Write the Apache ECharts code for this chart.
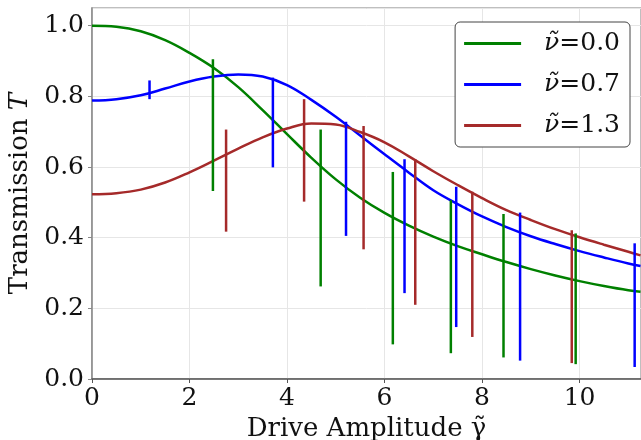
<!DOCTYPE html>
<html>
<head>
<meta charset="utf-8">
<script src="https://cdn.jsdelivr.net/npm/echarts@6/dist/echarts.min.js"></script>
<style>html,body{margin:0;padding:0;background:#fff}#c{width:641px;height:440px}</style>
</head>
<body>
<div id="c"></div>
<script>
var xs = [0, 0.5, 1.0, 1.5, 2.0, 2.5, 3.0, 3.5, 4.0, 4.5, 5.0, 5.5, 6.0, 6.5, 7.0, 7.5, 8.0, 8.5, 9.0, 9.5, 10.0, 10.5, 11.0, 11.25];
var green = [1.0, 0.997, 0.984, 0.959, 0.923, 0.880, 0.826, 0.761, 0.693, 0.626, 0.565, 0.513, 0.470, 0.434, 0.403, 0.376, 0.353, 0.331, 0.311, 0.293, 0.277, 0.263, 0.251, 0.247];
var blue  = [0.788, 0.792, 0.803, 0.822, 0.842, 0.856, 0.862, 0.856, 0.832, 0.790, 0.742, 0.689, 0.636, 0.584, 0.534, 0.495, 0.460, 0.430, 0.404, 0.382, 0.362, 0.344, 0.327, 0.320];
var red   = [0.523, 0.526, 0.536, 0.556, 0.585, 0.618, 0.652, 0.684, 0.709, 0.723, 0.720, 0.699, 0.670, 0.630, 0.588, 0.549, 0.512, 0.478, 0.450, 0.424, 0.401, 0.380, 0.360, 0.350];

var greenErrX  = [2.48, 4.69, 6.17, 7.36, 8.44, 9.92];
var greenErrLo = [0.532, 0.262, 0.098, 0.073, 0.061, 0.042];
var greenErrHi = [0.905, 0.706, 0.586, 0.506, 0.467, 0.412];
var blueErrX  = [1.18, 3.71, 5.21, 6.41, 7.47, 8.78, 11.13];
var blueErrLo = [0.792, 0.599, 0.405, 0.243, 0.147, 0.052, 0.034];
var blueErrHi = [0.845, 0.853, 0.728, 0.622, 0.544, 0.471, 0.384];
var redErrX  = [2.75, 4.35, 5.57, 6.63, 7.80, 9.84];
var redErrLo = [0.417, 0.502, 0.367, 0.210, 0.119, 0.045];
var redErrHi = [0.706, 0.792, 0.716, 0.622, 0.530, 0.421];

var names = ['ν̃=0.0', 'ν̃=0.7', 'ν̃=1.3'];
var colors = ['#008000', '#0000ff', '#a52a2a'];

function pairs(x, y) { return x.map(function (v, i) { return [v, y[i]]; }); }
function errData(x, lo, hi) { return x.map(function (v, i) { return [v, lo[i], hi[i]]; }); }
function errSeries(name, color, data) {
  return {
    type: 'custom', name: name, data: data, z: 3,
    encode: { x: 0, y: [1, 2] },
    renderItem: function (params, api) {
      var p1 = api.coord([api.value(0), api.value(1)]);
      var p2 = api.coord([api.value(0), api.value(2)]);
      return { type: 'line', shape: { x1: p1[0], y1: p1[1], x2: p2[0], y2: p2[1] },
               style: { stroke: color, lineWidth: 2.5 } };
    }
  };
}
function lineSeries(name, color, data) {
  return { type: 'line', name: name, data: data, smooth: 0.4, showSymbol: false, z: 2,
           lineStyle: { color: color, width: 2.5 }, itemStyle: { color: color } };
}

var serif = 'DejaVu Serif';
var chart = echarts.init(document.getElementById('c'));
chart.setOption({
  animation: false,
  backgroundColor: '#fff',
  grid: { left: 92, right: 0, top: 8, bottom: 61, show: true, borderColor: '#aaa', borderWidth: 1.5,
          containLabel: false, outerBoundsMode: 'none' },
  legend: {
    data: names, right: 11, top: 22, orient: 'vertical',
    backgroundColor: '#fff', borderColor: '#444', borderWidth: 1, borderRadius: 5,
    padding: [9, 10, 9, 9], itemGap: 16, itemWidth: 57, itemHeight: 3, icon: 'rect',
    formatter: function (n) { return '{i|ν̃}{n|=' + n.slice(3) + '}'; },
    textStyle: { padding: [0, 0, 0, 18], rich: {
      i: { fontFamily: serif, fontStyle: 'italic', fontSize: 25, color: '#111', lineHeight: 28 },
      n: { fontFamily: serif, fontSize: 25, color: '#111', lineHeight: 28 } } }
  },
  xAxis: {
    type: 'value', min: 0, max: 11.26, interval: 2,
    name: 'Drive Amplitude γ̃', nameLocation: 'middle', nameGap: 32,
    nameTextStyle: { fontFamily: serif, fontSize: 26, color: '#111' },
    axisLine: { lineStyle: { color: '#555', width: 1.5 } },
    axisTick: { show: true, length: 4, lineStyle: { color: '#555' } },
    axisLabel: { fontFamily: serif, fontSize: 25, color: '#111', margin: 7, showMaxLabel: false },
    splitLine: { show: true, lineStyle: { color: '#e6e6e6', width: 1 } }
  },
  yAxis: {
    type: 'value', min: 0, max: 1.05, interval: 0.2,
    name: 'Transmission {i|T}', nameLocation: 'middle', nameGap: 52,
    nameTextStyle: { fontFamily: serif, fontSize: 26, color: '#111',
      rich: { i: { fontFamily: serif, fontStyle: 'italic', fontSize: 26, color: '#111' } } },
    axisLine: { show: true, lineStyle: { color: '#888', width: 1.5 } },
    axisTick: { show: true, length: 4, lineStyle: { color: '#888' } },
    axisLabel: { fontFamily: serif, fontSize: 25, color: '#111', margin: 8, showMaxLabel: false,
      formatter: function (v) { return v.toFixed(1); } },
    splitLine: { show: true, lineStyle: { color: '#e6e6e6', width: 1 } }
  },
  series: [
    lineSeries(names[0], colors[0], pairs(xs, green)),
    lineSeries(names[1], colors[1], pairs(xs, blue)),
    lineSeries(names[2], colors[2], pairs(xs, red)),
    errSeries(names[0], colors[0], errData(greenErrX, greenErrLo, greenErrHi)),
    errSeries(names[1], colors[1], errData(blueErrX, blueErrLo, blueErrHi)),
    errSeries(names[2], colors[2], errData(redErrX, redErrLo, redErrHi))
  ]
});
</script>
</body>
</html>
